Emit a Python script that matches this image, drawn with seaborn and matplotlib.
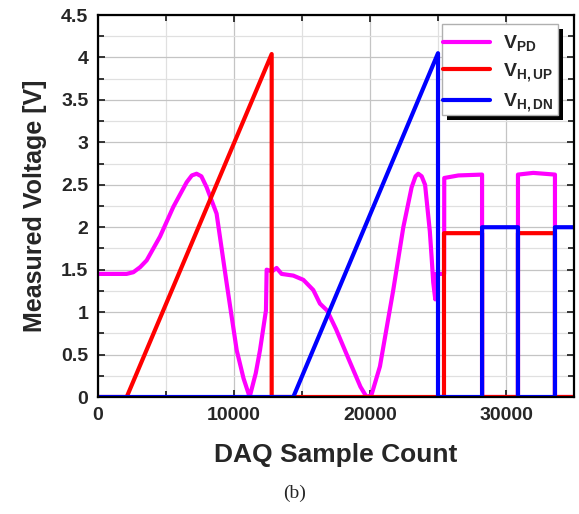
import numpy as np
import pandas as pd
import matplotlib
matplotlib.use("Agg")
import matplotlib.pyplot as plt
from matplotlib.patches import Rectangle
from matplotlib.ticker import MultipleLocator
import seaborn as sns

# data baca dari gambar
pd_x = [0, 2100, 2600, 3100, 3580, 4560, 5540, 6520, 6900, 7250, 7600, 7990,
        8720, 9460, 10200, 10700, 11150, 11600, 11910, 12350, 12400, 12800,
        13130, 13500, 14360, 15100, 15830, 16320, 16840, 17500, 18500, 19300,
        19750, 20100, 20730, 21710, 22450, 23060, 23350, 23550, 23800, 24050,
        24400, 24550, 24650, 24800, 24850, 25450, 25460, 26500, 28240, 28240,
        30880, 30880, 32000, 33600, 33600, 35000]
pd_y = [1.45, 1.45, 1.47, 1.53, 1.61, 1.89, 2.24, 2.53, 2.61, 2.63, 2.60, 2.47,
        2.16, 1.34, 0.55, 0.22, 0.0, 0.28, 0.55, 1.02, 1.50, 1.48,
        1.52, 1.45, 1.43, 1.38, 1.26, 1.10, 1.02, 0.80, 0.42, 0.12,
        0.0, 0.02, 0.36, 1.26, 2.0, 2.47, 2.60, 2.63, 2.60, 2.50,
        1.95, 1.60, 1.35, 1.15, 1.45, 1.45, 2.58, 2.61, 2.62, 0.0,
        0.0, 2.62, 2.64, 2.62, 0.0, 0.0]

up_x = [0, 2110, 12770, 12770, 25440, 25440, 28240, 28240, 30880, 30880,
        33600, 33600, 35000]
up_y = [0, 0, 4.04, 0, 0, 1.93, 1.93, 0, 0, 1.93, 1.93, 0, 0]

dn_x = [0, 14360, 25000, 25000, 28240, 28240, 30880, 30880, 33600, 33600, 35000]
dn_y = [0, 0, 4.05, 0, 0, 2.0, 2.0, 0, 0, 2.0, 2.0]

labels = [r'$\mathbf{V_{PD}}$', r'$\mathbf{V_{H,UP}}$', r'$\mathbf{V_{H,DN}}$']
colors = ['#ff00ff', '#ff0000', '#0000ff']

sns.set_style("ticks")
plt.rcParams['font.family'] = ['Liberation Sans', 'DejaVu Sans']
plt.rcParams['font.weight'] = 'bold'
plt.rcParams['mathtext.fontset'] = 'custom'
plt.rcParams['mathtext.bf'] = 'Liberation Sans:bold'
plt.rcParams['mathtext.rm'] = 'Liberation Sans'

fig = plt.figure(figsize=(5.79, 5.14), dpi=100)
ax = fig.add_axes([98/579, 1 - 397/514, 476/579, 382/514])

for xs, ys, lab, c in zip([pd_x, up_x, dn_x], [pd_y, up_y, dn_y], labels, colors):
    df = pd.DataFrame({'x': xs, 'y': ys})
    sns.lineplot(data=df, x='x', y='y', estimator=None, sort=False,
                 color=c, lw=3, label=lab, ax=ax)

ax.set_xlim(0, 35000)
ax.set_ylim(0, 4.5)
ax.xaxis.set_major_locator(MultipleLocator(10000))
ax.xaxis.set_minor_locator(MultipleLocator(5000))
ax.yaxis.set_minor_locator(MultipleLocator(0.25))
ax.set_yticks(np.arange(0, 4.51, 0.5))
ax.set_yticklabels(['0', '0.5', '1', '1.5', '2', '2.5', '3', '3.5', '4', '4.5'])

ax.grid(which='major', color='#c4c4c4', lw=0.9)
ax.grid(which='minor', color='#e0e0e0', lw=0.9)
ax.set_axisbelow(True)

ax.tick_params(which='both', direction='in', top=True, right=True,
               width=1.3, labelsize=14)
ax.tick_params(which='major', length=5, pad=7)
ax.tick_params(which='minor', length=4)
for s in ax.spines.values():
    s.set_linewidth(1.6)
    s.set_color('black')

ax.set_xlabel('DAQ Sample Count', fontsize=19, fontweight='bold', labelpad=14)
ax.set_ylabel('Measured Voltage [V]', fontsize=18, fontweight='bold', labelpad=10)

# legend tanpa frame, frame + bayangan digambar sendiri
leg = ax.legend(loc='upper left', bbox_to_anchor=(0.7248, 0.952), fontsize=14,
                frameon=False, borderpad=0, handlelength=2.4, handletextpad=0.7,
                labelspacing=0.38, borderaxespad=0)
leg.set_zorder(7)

ax.add_patch(Rectangle((0.7332, 0.7251), 0.2437, 0.2382, transform=ax.transAxes,
                       facecolor='black', edgecolor='none', zorder=5.5,
                       clip_on=False))
ax.add_patch(Rectangle((0.7227, 0.7382), 0.2437, 0.2382, transform=ax.transAxes,
                       facecolor='white', edgecolor='#b0b0b0', lw=1.0,
                       zorder=5.6, clip_on=False))

fig.text(295/579, 1 - 493/514, '(b)', family='Liberation Serif',
         fontweight='normal', fontsize=14, ha='center', va='center')

fig.savefig('out.png', dpi=100)
